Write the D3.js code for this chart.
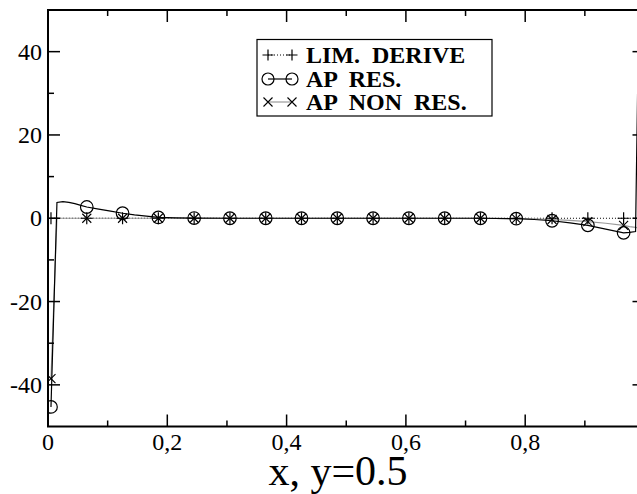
<!DOCTYPE html>
<html><head><meta charset="utf-8">
<script src="https://cdn.jsdelivr.net/npm/d3@7"></script>
<style>
html,body{margin:0;padding:0;background:#fff;}
svg{display:block;}
</style></head>
<body>
<svg id="c" width="637" height="494"></svg>
<script>
// ---- data ----
const curveX = [0.005,0.015,0.025,0.035,0.045,0.055,0.065,0.085,0.105,0.125,0.145,0.165,0.185,0.215,0.245,0.305,0.365,0.425,0.485,0.545,0.605,0.665,0.725,0.785,0.815,0.845,0.875,0.905,0.935,0.965,0.975,0.985,0.995];
const limDerive = [0,0,0,0,0,0,0,0,0,0,0,0,0,0,0,0,0,0,0,0,0,0,0,0,0,0,0,0,0,0,0,0,0];
const apRes = [-45.3,3.8,4.0,3.8,3.5,3.1,2.7,2.2,1.7,1.2,0.8,0.5,0.2,0.1,0.05,0,0,0,0,0,0,0,0,-0.1,-0.3,-0.6,-1.1,-1.7,-2.6,-3.5,-3.4,-3.2,95];
const apNonRes = [-38.5,0,0,0,0,0,0,0,0,0,0,0,0,0,0,0,0,0,0,0,0,0,0,-0.1,-0.15,-0.3,-0.5,-0.8,-1.2,-1.7,-2.0,-2.2,-2.4];
const markerX = [0.005,0.065,0.125,0.185,0.245,0.305,0.365,0.425,0.485,0.545,0.605,0.665,0.725,0.785,0.845,0.905,0.965];
const xMajor = [0,0.2,0.4,0.6,0.8,1.0];
const xMinor = [0.1,0.3,0.5,0.7,0.9];
const xLabels = ["0","0,2","0,4","0,6","0,8"];
const yMajor = [-40,-20,0,20,40];
const yMinor = [-30,-10,10,30];
const yLabels = ["-40","-20","0","20","40"];
const legendNames = ["LIM.  DERIVE","AP  RES.","AP  NON  RES."];
const xTitle = "x, y=0.5";

const FONT = "'Liberation Serif', 'Times New Roman', Times, serif";

// ---- layout ----
const svg = d3.select("#c");
const L = 48, R = 644.5, T = 10, B = 426.5;
const x = d3.scaleLinear().domain([0,1]).range([L,R]);
const y = d3.scaleLinear().domain([-50,50]).range([B,T]);

svg.append("defs").append("clipPath").attr("id","clip")
  .append("rect").attr("x",L).attr("y",T).attr("width",R-L).attr("height",B-T);

const pts = ys => curveX.map((v,i)=>[v, ys[i]]);
const line = d3.line().x(d=>x(d[0])).y(d=>y(d[1]));
const g = svg.append("g").attr("clip-path","url(#clip)");

g.append("path").datum(pts(limDerive)).attr("d",line).attr("fill","none")
  .attr("stroke","#000").attr("stroke-width",1).attr("stroke-dasharray","1,2");
g.append("path").datum(pts(apNonRes)).attr("d",line).attr("fill","none")
  .attr("stroke","#999").attr("stroke-width",1.2);
g.append("path").datum(pts(apRes)).attr("d",line).attr("fill","none")
  .attr("stroke","#000").attr("stroke-width",1.2);

const isMarker = v => markerX.some(m => Math.abs(m-v) < 1e-6);
function plus(sel, cx, cy, h){
  sel.append("path").attr("d",`M${cx-h},${cy}H${cx+h}M${cx},${cy-h}V${cy+h}`)
    .attr("stroke","#000").attr("stroke-width",1.2).attr("fill","none");
}
function cross(sel, cx, cy, h){
  sel.append("path").attr("d",`M${cx-h},${cy-h}L${cx+h},${cy+h}M${cx-h},${cy+h}L${cx+h},${cy-h}`)
    .attr("stroke","#000").attr("stroke-width",1.1).attr("fill","none");
}
function circ(sel, cx, cy, r){
  sel.append("circle").attr("cx",cx).attr("cy",cy).attr("r",r)
    .attr("stroke","#000").attr("stroke-width",1.2).attr("fill","none");
}
const mg = svg.append("g").attr("clip-path","url(#clip)");
pts(limDerive).filter(d=>isMarker(d[0])).forEach(d=>plus(mg, x(d[0]), y(d[1]), 6));
pts(apRes).filter(d=>isMarker(d[0])).forEach(d=>circ(mg, x(d[0]), y(d[1]), 6.3));
pts(apNonRes).filter(d=>isMarker(d[0])).forEach(d=>cross(mg, x(d[0]), y(d[1]), 4.5));

svg.append("rect").attr("x",L).attr("y",T).attr("width",R-L).attr("height",B-T)
  .attr("fill","none").attr("stroke","#000").attr("stroke-width",2);

const tk = svg.append("g").attr("stroke","#000").attr("stroke-width",1.5);
xMajor.forEach(v=>{
  tk.append("line").attr("x1",x(v)).attr("x2",x(v)).attr("y1",B).attr("y2",B-12);
  tk.append("line").attr("x1",x(v)).attr("x2",x(v)).attr("y1",T).attr("y2",T+12);
});
xMinor.forEach(v=>{
  tk.append("line").attr("x1",x(v)).attr("x2",x(v)).attr("y1",B).attr("y2",B-6);
  tk.append("line").attr("x1",x(v)).attr("x2",x(v)).attr("y1",T).attr("y2",T+6);
});
yMajor.forEach(v=>{
  tk.append("line").attr("x1",L).attr("x2",L+12).attr("y1",y(v)).attr("y2",y(v));
  tk.append("line").attr("x1",R).attr("x2",R-12).attr("y1",y(v)).attr("y2",y(v));
});
yMinor.forEach(v=>{
  tk.append("line").attr("x1",L).attr("x2",L+6).attr("y1",y(v)).attr("y2",y(v));
  tk.append("line").attr("x1",R).attr("x2",R-6).attr("y1",y(v)).attr("y2",y(v));
});

xLabels.forEach((t,i)=>{
  svg.append("text").attr("x",x(xMajor[i])).attr("y",450).attr("text-anchor","middle")
    .attr("font-family",FONT).attr("font-size",24).text(t);
});
yMajor.forEach((v,i)=>{
  svg.append("text").attr("x",42).attr("y",y(v)+8).attr("text-anchor","end")
    .attr("font-family",FONT).attr("font-size",24).text(yLabels[i]);
});

svg.append("text").attr("x",338).attr("y",485).attr("text-anchor","middle")
  .attr("font-family",FONT).attr("font-size",42).text(xTitle);

const lg = svg.append("g");
lg.append("rect").attr("x",257).attr("y",39.5).attr("width",235).attr("height",76.5)
  .attr("fill","#fff").attr("stroke","#000").attr("stroke-width",1.2);
const rowsY = [55, 79, 102];
lg.append("line").attr("x1",268).attr("x2",292).attr("y1",rowsY[0]).attr("y2",rowsY[0])
  .attr("stroke","#000").attr("stroke-dasharray","1,2");
plus(lg,268,rowsY[0],5.5); plus(lg,292,rowsY[0],5.5);
lg.append("line").attr("x1",268).attr("x2",292).attr("y1",rowsY[1]).attr("y2",rowsY[1])
  .attr("stroke","#000").attr("stroke-width",1.2);
circ(lg,268,rowsY[1],6); circ(lg,292,rowsY[1],6);
lg.append("line").attr("x1",268).attr("x2",292).attr("y1",rowsY[2]).attr("y2",rowsY[2])
  .attr("stroke","#999").attr("stroke-width",1.2);
cross(lg,268,rowsY[2],4.5); cross(lg,292,rowsY[2],4.5);
legendNames.forEach((n,i)=>{
  lg.append("text").attr("x",306).attr("y",rowsY[i]+7.5).attr("font-size",24)
    .attr("font-family",FONT).attr("font-weight","bold")
    .style("white-space","pre").attr("xml:space","preserve").text(n);
});
</script>
</body></html>
